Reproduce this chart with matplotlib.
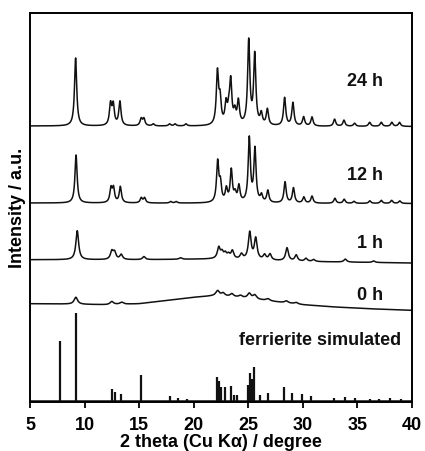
import numpy as np
import matplotlib
matplotlib.use("Agg")
import matplotlib.pyplot as plt

plt.rcParams["font.family"] = ["Liberation Sans", "DejaVu Sans"]

# peak positions (2 theta) and heights
pos_24h = [9.18, 12.38, 12.63, 13.24, 15.19, 15.44, 16.3, 17.8, 18.3, 19.3,
           22.18, 22.42, 22.97, 23.22, 23.40, 23.77, 24.10, 25.05, 25.60,
           26.20, 26.76, 28.34, 29.10, 30.08, 30.85, 32.92, 33.78, 34.75,
           36.13, 37.20, 38.17, 38.87]
hgt_24h = [68, 21, 20, 24, 7, 7, 2, 2, 2, 2,
           52, 24, 20, 12, 42, 12, 23, 84, 70,
           11, 16, 28, 23, 9, 9, 7, 6, 3,
           4, 4, 4, 4]

pos_12h = [9.22, 12.42, 12.65, 13.28, 15.20, 15.50, 17.9, 18.4,
           22.20, 22.45, 23.00, 23.45, 23.80, 24.15, 25.10, 25.62,
           26.22, 26.80, 28.38, 29.15, 30.10, 30.85, 32.95, 33.80, 34.70,
           36.15, 37.20, 38.15, 38.90]
hgt_12h = [48, 14, 14, 16, 5, 5, 1.5, 1.5,
           40, 18, 13, 32, 8, 16, 64, 53,
           7, 12, 21, 15, 6, 7, 5, 4, 2,
           2.5, 3, 3, 2.5]

pos_1h = [9.33, 12.50, 12.75, 13.36, 15.44, 18.8, 22.30, 22.60, 22.90,
          23.20, 23.55, 24.38, 25.14, 25.69, 26.50, 27.00, 28.56, 29.40,
          30.30, 31.00, 33.90, 36.50]
hgt_1h = [29, 8, 7, 5, 3, 1.5, 11, 6, 5,
          4, 8, 5, 27, 21, 5, 6, 13, 6,
          3, 2, 3, 1.5]

pos_0h = [9.2, 12.5, 13.4, 22.2, 22.7, 23.5, 24.3, 25.1, 25.6, 26.8, 28.5, 29.4]
hgt_0h = [7, 3, 2, 5, 3, 3, 2, 5, 4, 2, 2, 1.5]

# baselines (2 theta, level)
base_24h_x = [5, 40]
base_24h_y = [276, 275.5]
base_12h_x = [5, 40]
base_12h_y = [199, 198.5]
base_1h_x = [5, 15, 22, 30, 40]
base_1h_y = [142.3, 142.3, 143, 140.5, 139]
base_0h_x = [5, 8, 12, 15, 18, 20, 22, 24, 26, 28, 30, 33, 36, 40]
base_0h_y = [98.3, 98, 97.3, 98.3, 102.3, 104.7, 106.3, 104.7, 102.3, 99.7,
             97.3, 95, 93.3, 91.7]

# simulated ferrierite stick pattern
sim_pos = [7.75, 9.20, 12.54, 12.75, 13.33, 15.19, 17.80, 18.60, 19.40,
           22.15, 22.33, 22.50, 22.88, 23.40, 23.70, 24.00, 24.99, 25.14,
           25.35, 25.50, 26.10, 26.82, 28.28, 29.05, 29.96, 30.80, 32.90,
           33.90, 34.80, 36.20, 37.00, 38.00, 39.00]
sim_hgt = [60, 88, 12, 9, 7, 26, 5, 3, 2,
           24, 20, 14, 14, 15, 6, 6, 16, 28,
           22, 34, 6, 8, 14, 8, 7, 5, 3,
           4, 3, 2, 2, 3, 2]
sim_base = 1.5

labels = ["24 h", "12 h", "1 h", "0 h"]

x = np.linspace(5, 40, 3500)


def pattern(pos, hgt, fwhm, bx, by):
    y = np.interp(x, bx, by)
    g = fwhm / 2
    for p, h in zip(pos, hgt):
        y = y + h * g**2 / ((x - p) ** 2 + g**2)
    return y


fig = plt.figure(figsize=(4.25, 4.51), dpi=100)
ax = fig.add_axes([0.0706, 0.1086, 0.8984, 0.8626])

col = "#111111"
ax.plot(x, pattern(pos_24h, hgt_24h, 0.24, base_24h_x, base_24h_y), color=col, lw=1.1)
ax.plot(x, pattern(pos_12h, hgt_12h, 0.24, base_12h_x, base_12h_y), color=col, lw=1.1)
ax.plot(x, pattern(pos_1h, hgt_1h, 0.3, base_1h_x, base_1h_y), color=col, lw=1.1)
ax.plot(x, pattern(pos_0h, hgt_0h, 0.38, base_0h_x, base_0h_y), color=col, lw=1.1)

ax.plot([5, 40], [sim_base, sim_base], color=col, lw=1.1)
ax.vlines(sim_pos, sim_base, [sim_base + h for h in sim_hgt], color=col, lw=1.6)

tfont = dict(fontsize=13, fontweight="bold", color="#111111")
ax.text(37.34, 320, labels[0], ha="right", va="center", **tfont)
ax.text(37.34, 227, labels[1], ha="right", va="center", **tfont)
ax.text(37.34, 159, labels[2], ha="right", va="center", **tfont)
ax.text(37.34, 107, labels[3], ha="right", va="center", **tfont)
ax.text(31.6, 62, "ferrierite simulated", ha="center", va="center", **tfont)

ax.set_xlim(5, 40)
ax.set_ylim(0, 389)
ax.set_xticks([5, 10, 15, 20, 25, 30, 35, 40])
ax.set_yticks([])
ax.tick_params(axis="x", direction="out", length=4, width=1.3, pad=7,
               labelsize=13)
for lab in ax.get_xticklabels():
    lab.set_fontweight("bold")
for s in ax.spines.values():
    s.set_linewidth(1.4)

ax.set_xlabel("2 theta (Cu Kα) / degree", fontsize=13, fontweight="bold", labelpad=0)
ax.set_ylabel("Intensity / a.u.", fontsize=13, fontweight="bold", labelpad=3)

fig.savefig("out.png", dpi=100)
